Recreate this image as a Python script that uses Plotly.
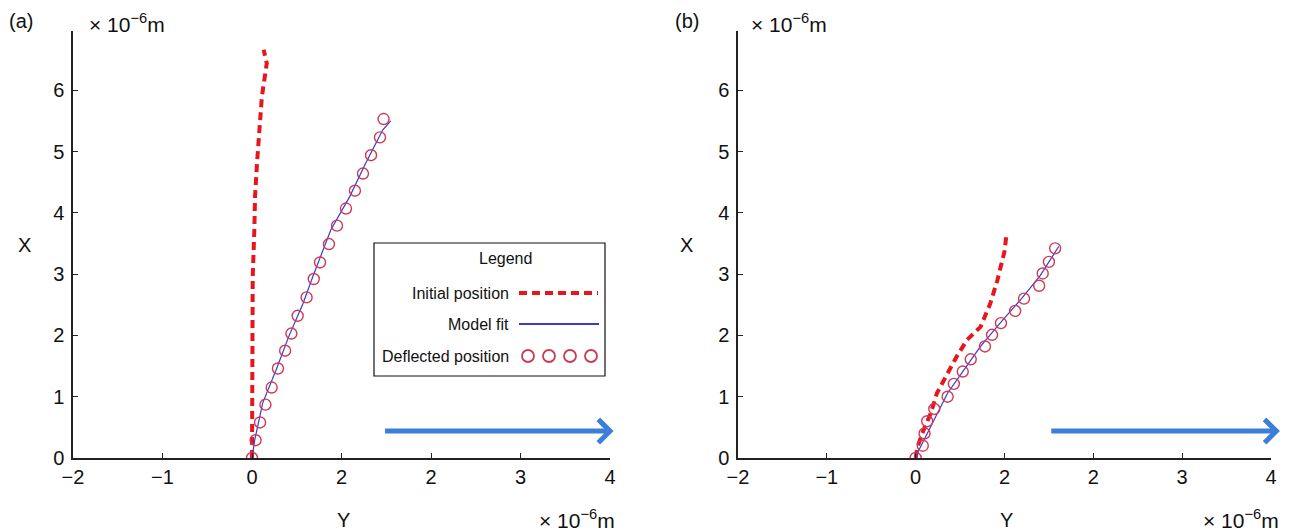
import plotly.graph_objects as go

# ---------------- data (units of 1e-6 m) ----------------
# Panel (a)
a_init_Y = [0.0, 0.005, 0.008, 0.026, 0.034, 0.056, 0.078, 0.11, 0.165, 0.13]
a_init_X = [0.0, 1.5, 2.95, 3.72, 4.26, 4.81, 5.35, 5.89, 6.44, 6.66]

a_fit_Y = [0.0, 0.03, 0.12, 0.27, 0.41, 0.57, 0.68, 0.88, 1.09, 1.27, 1.46, 1.55]
a_fit_X = [0.0, 0.29, 0.90, 1.44, 1.98, 2.52, 2.96, 3.72, 4.26, 4.81, 5.35, 5.50]

a_defl_Y = [0.0, 0.04, 0.09, 0.15, 0.22, 0.29, 0.37, 0.44, 0.51, 0.61,
            0.69, 0.76, 0.86, 0.95, 1.05, 1.15, 1.24, 1.33, 1.43, 1.47]
a_defl_X = [0.0, 0.29, 0.58, 0.87, 1.15, 1.46, 1.75, 2.03, 2.32, 2.62,
            2.92, 3.19, 3.49, 3.79, 4.07, 4.36, 4.64, 4.94, 5.23, 5.53]

# Panel (b)
b_init_Y = [0.0, 0.02, 0.09, 0.17, 0.24, 0.36, 0.46, 0.58, 0.73, 0.84, 0.92, 1.0, 1.02]
b_init_X = [0.0, 0.18, 0.46, 0.73, 1.06, 1.38, 1.65, 1.93, 2.14, 2.52, 2.90, 3.37, 3.62]

b_fit_Y = [0.0, 0.02, 0.13, 0.36, 0.55, 0.73, 0.95, 1.18, 1.40, 1.61]
b_fit_X = [0.0, 0.08, 0.40, 1.06, 1.45, 1.82, 2.20, 2.58, 2.97, 3.45]

b_defl_Y = [0.0, 0.08, 0.10, 0.13, 0.21, 0.36, 0.43, 0.53, 0.62, 0.78,
            0.86, 0.96, 1.12, 1.22, 1.39, 1.43, 1.50, 1.57]
b_defl_X = [0.0, 0.20, 0.40, 0.60, 0.80, 1.00, 1.21, 1.41, 1.61, 1.82,
            2.01, 2.20, 2.40, 2.60, 2.81, 3.01, 3.20, 3.42]

# Blue arrows (start, end along Y; height along X)
a_arrow = dict(y0=1.47, y1=4.04, x=0.44)
b_arrow = dict(y0=1.51, y1=4.10, x=0.44)

x_tickvals = [-2, -1, 0, 1, 2, 3, 4]
x_ticktext = ["\u22122", "\u22121", "0", "2", "2", "3", "4"]
y_tickvals = [0, 1, 2, 3, 4, 5, 6]
y_ticktext = ["0", "1", "2", "3", "4", "5", "6"]

legend_labels = ["Initial position", "Model fit", "Deflected position"]

# ---------------- style ----------------
PAGE_W, PAGE_H = 1289, 532
OFF = 8                      # default body margin of the html page
W, H = PAGE_W - OFF, PAGE_H - OFF
RED = "#e8161c"
BLUE_FIT = "#3a3ad0"
CIRC = "#cc3b55"
ARROW = "#3b7fd8"
AXC = "#222222"
FONT = "Liberation Sans, Arial, sans-serif"

def px2fx(px):
    return (px - OFF) / W

def py2fy(py):
    return 1 - (py - OFF) / H

fig = go.Figure()

def add_panel(xa, ya, iY, iX, fY, fX, dY, dX):
    fig.add_trace(go.Scatter(x=iY, y=iX, mode="lines", xaxis=xa, yaxis=ya,
                             line=dict(color=RED, width=4, dash="8px,5px"),
                             showlegend=False, hoverinfo="skip"))
    fig.add_trace(go.Scatter(x=fY, y=fX, mode="lines", xaxis=xa, yaxis=ya,
                             line=dict(color=BLUE_FIT, width=1.2),
                             showlegend=False, hoverinfo="skip"))
    fig.add_trace(go.Scatter(x=dY, y=dX, mode="markers", xaxis=xa, yaxis=ya,
                             marker=dict(symbol="circle-open", size=11,
                                         color=CIRC, line=dict(width=1.4, color=CIRC)),
                             showlegend=False, hoverinfo="skip"))

add_panel("x", "y", a_init_Y, a_init_X, a_fit_Y, a_fit_X, a_defl_Y, a_defl_X)
add_panel("x2", "y2", b_init_Y, b_init_X, b_fit_Y, b_fit_X, b_defl_Y, b_defl_X)

# ---------------- legend (manual, MATLAB style), page-pixel overlay axis ----------------
LX0, LX1, LY0, LY1 = 374, 605, 243, 376
fig.add_trace(go.Scatter(x=[519, 598], y=[293, 293], mode="lines", xaxis="x3", yaxis="y3",
                         line=dict(color=RED, width=4, dash="8px,5px"),
                         showlegend=False, hoverinfo="skip"))
fig.add_trace(go.Scatter(x=[519, 599], y=[324, 324], mode="lines", xaxis="x3", yaxis="y3",
                         line=dict(color=BLUE_FIT, width=1.8),
                         showlegend=False, hoverinfo="skip"))
fig.add_trace(go.Scatter(x=[528, 549, 570, 591], y=[356, 356, 356, 356], mode="markers",
                         xaxis="x3", yaxis="y3",
                         marker=dict(symbol="circle-open", size=12, color=CIRC,
                                     line=dict(width=1.8, color=CIRC)),
                         showlegend=False, hoverinfo="skip"))

shapes = [dict(type="rect", xref="x3", yref="y3", x0=LX0, x1=LX1, y0=LY0, y1=LY1,
               line=dict(color="#111111", width=1.2), fillcolor="rgba(255,255,255,0)",
               layer="below")]

ann = []
def txt(x, y, s, size=16, xanchor="center", yanchor="middle", angle=0):
    ann.append(dict(xref="x3", yref="y3", x=x, y=y, text=s, showarrow=False,
                    xanchor=xanchor, yanchor=yanchor, textangle=angle,
                    font=dict(family=FONT, size=size, color="#111111")))

txt(505, 258, "Legend", 16)
txt(511, 293, legend_labels[0], 16, xanchor="right")
txt(511, 324, legend_labels[1], 16, xanchor="right")
txt(511, 356, legend_labels[2], 16, xanchor="right")

txt(21, 21, "(a)", 20)
txt(687, 21, "(b)", 20)
unit = "\u00d7 10<sup>\u22126</sup>m"
txt(87, 23, unit, 21, xanchor="left")
txt(749, 23, unit, 21, xanchor="left")
txt(617, 519, unit, 21, xanchor="right")
txt(1281, 519, unit, 21, xanchor="right")
txt(343, 520, "Y", 20)
txt(1006, 520, "Y", 20)
txt(24, 245, "X", 20)
txt(686, 245, "X", 20)

# arrows
for xa, ya, arr in (("x", "y", a_arrow), ("x2", "y2", b_arrow)):
    ann.append(dict(xref=xa, yref=ya, axref=xa, ayref=ya,
                    x=arr["y1"], y=arr["x"], ax=arr["y0"], ay=arr["x"],
                    showarrow=True, arrowhead=4, arrowsize=0.9, arrowwidth=5,
                    arrowcolor=ARROW, text=""))

# ---------------- axes ----------------
ydom = [py2fy(458), py2fy(31)]
yr = [0, (458 - 31) / 61.3]

def xaxis_cfg(dom, anchor):
    return dict(domain=dom, range=[-2, 4], tickvals=x_tickvals, ticktext=x_ticktext,
                anchor=anchor, automargin=False,
                showgrid=False, zeroline=False, showline=True, linecolor=AXC, linewidth=1.5,
                ticks="inside", ticklen=5, tickwidth=1.3, tickcolor=AXC,
                tickfont=dict(family=FONT, size=20, color="#111111"), fixedrange=True)

def yaxis_cfg(anchor):
    return dict(domain=ydom, range=yr, tickvals=y_tickvals, ticktext=y_ticktext,
                anchor=anchor, automargin=False, showgrid=False, zeroline=False, showline=True,
                linecolor=AXC, linewidth=1.5, ticks="inside", ticklen=5, tickwidth=1.3,
                tickcolor=AXC, ticklabelstandoff=3,
                tickfont=dict(family=FONT, size=20, color="#111111"), fixedrange=True)

fig.update_layout(
    width=W, height=H,
    margin=dict(l=0, r=0, t=0, b=0, autoexpand=False),
    paper_bgcolor="white", plot_bgcolor="rgba(0,0,0,0)",
    showlegend=False,
    xaxis=xaxis_cfg([px2fx(73), px2fx(610)], "y"),
    yaxis=yaxis_cfg("x"),
    xaxis2=xaxis_cfg([px2fx(738), px2fx(1271)], "y2"),
    yaxis2=yaxis_cfg("x2"),
    xaxis3=dict(domain=[0, 1], range=[OFF, OFF + W], visible=False, fixedrange=True,
                automargin=False),
    yaxis3=dict(domain=[0, 1], range=[OFF + H, OFF], visible=False, anchor="x3",
                fixedrange=True, automargin=False),
    shapes=shapes,
    annotations=ann,
)

fig.write_html("out.html")
